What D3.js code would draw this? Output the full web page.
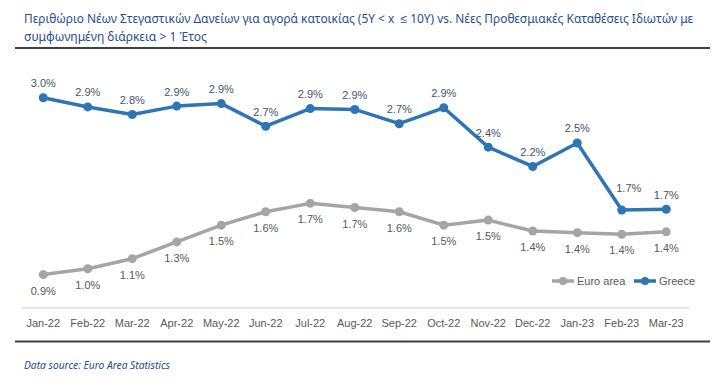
<!DOCTYPE html>
<html>
<head>
<meta charset="utf-8">
<script src="https://cdn.jsdelivr.net/npm/d3@7"></script>
<style>
  body { margin: 0; background: #fff; }
  svg { display: block; font-family: "Liberation Sans", Arial, sans-serif; }
</style>
</head>
<body>
<svg id="chart" width="714" height="384"></svg>
<script>
const months = ["Jan-22", "Feb-22", "Mar-22", "Apr-22", "May-22", "Jun-22", "Jul-22", "Aug-22",
  "Sep-22", "Oct-22", "Nov-22", "Dec-22", "Jan-23", "Feb-23", "Mar-23"];
const greece = [3.00, 2.89, 2.80, 2.90, 2.93, 2.66, 2.87, 2.86, 2.69, 2.88, 2.41, 2.18, 2.46, 1.66, 1.67];
const euroArea = [0.89, 0.96, 1.08, 1.28, 1.48, 1.64, 1.74, 1.69, 1.64, 1.48, 1.54, 1.41, 1.39, 1.37, 1.40];
const seriesNames = ["Euro area", "Greece"];
const titleLines = [
  "Περιθώριο Νέων Στεγαστικών Δανείων για αγορά κατοικίας (5Y < x  ≤ 10Y) vs. Νέες Προθεσμιακές Καταθέσεις Ιδιωτών με",
  "συμφωνημένη διάρκεια > 1 Έτος"
];
const sourceText = "Data source: Euro Area Statistics";

const svg = d3.select("#chart");

const x = d3.scaleBand().domain(months).range([21, 688.5]);
const y = d3.scaleLinear().domain([0.5, 3.5]).range([307.3, 55.8]);
const cx = function (m) { return x(m) + x.bandwidth() / 2; };

// Title
svg.append("g")
  .selectAll("text")
  .data(titleLines)
  .enter()
  .append("text")
  .attr("x", 24)
  .attr("y", function (d, i) { return 23 + i * 18; })
  .attr("fill", "#1f4e8c")
  .style("font-family", "'Noto Sans', sans-serif")
  .style("font-size", "12px")
  .style("white-space", "pre")
  .attr("textLength", function (d, i) { return i === 0 ? 669 : 183; })
  .attr("lengthAdjust", "spacingAndGlyphs")
  .text(function (d) { return d; });

// Rules
svg.append("line").attr("x1", 15).attr("x2", 710).attr("y1", 48).attr("y2", 48)
  .attr("stroke", "#404040").attr("stroke-width", 2);
svg.append("line").attr("x1", 15).attr("x2", 710).attr("y1", 341.5).attr("y2", 341.5)
  .attr("stroke", "#404040").attr("stroke-width", 2);

// Footer
svg.append("text")
  .attr("x", 24).attr("y", 369)
  .attr("fill", "#1f4e8c")
  .style("font-family", "'Noto Sans', sans-serif")
  .style("font-style", "italic")
  .style("font-size", "10.5px")
  .attr("textLength", 146)
  .attr("lengthAdjust", "spacingAndGlyphs")
  .text(sourceText);

// X axis
const xAxis = svg.append("g")
  .attr("transform", "translate(0,307.3)")
  .call(d3.axisBottom(x).tickSize(0).tickPadding(12));
xAxis.select(".domain").attr("stroke", "#d9d9d9").attr("stroke-width", 1.2);
xAxis.selectAll("text").attr("fill", "#595959").style("font-size", "11px")
  .style("font-family", "'Liberation Sans', Arial, sans-serif");

const series = [
  { name: "Euro area", values: euroArea, color: "#a5a5a5", labelColor: "#595959", dy: 20 },
  { name: "Greece", values: greece, color: "#2e75b6", labelColor: "#44546a", dy: -10.5 }
];

const line = d3.line()
  .x(function (d) { return cx(d.m); })
  .y(function (d) { return y(d.v); });

series.forEach(function (s) {
  const pts = months.map(function (m, i) { return { m: m, v: s.values[i] }; });
  const g = svg.append("g");

  g.append("path")
    .datum(pts)
    .attr("d", line)
    .attr("fill", "none")
    .attr("stroke", s.color)
    .attr("stroke-width", 3.5)
    .attr("stroke-linejoin", "round");

  g.selectAll("circle")
    .data(pts)
    .enter()
    .append("circle")
    .attr("cx", function (d) { return cx(d.m); })
    .attr("cy", function (d) { return y(d.v); })
    .attr("r", 4.5)
    .attr("fill", s.color);

  g.selectAll("text")
    .data(pts)
    .enter()
    .append("text")
    // Feb-23 Greece label is nudged up/right off the steep drop, as in the original
    .attr("x", function (d) {
      return cx(d.m) + (s.name === "Greece" && d.m === "Feb-23" ? 7 : 0);
    })
    .attr("y", function (d) {
      return y(d.v) + s.dy + (s.name === "Greece" && d.m === "Feb-23" ? -8 : 0);
    })
    .attr("text-anchor", "middle")
    .attr("fill", s.labelColor)
    .style("font-size", "11px")
    .text(function (d) { return d.v.toFixed(1) + "%"; });
});

// Legend
const legend = svg.append("g")
  .selectAll("g")
  .data(series)
  .enter()
  .append("g")
  .attr("transform", function (d, i) { return "translate(" + (i === 0 ? 552 : 634) + ",281)"; });

legend.append("line")
  .attr("x1", 0).attr("x2", 22)
  .attr("stroke", function (d) { return d.color; })
  .attr("stroke-width", 3.5);
legend.append("circle")
  .attr("cx", 11).attr("r", 4)
  .attr("fill", function (d) { return d.color; });
legend.append("text")
  .attr("x", 25).attr("y", 4)
  .attr("fill", "#595959")
  .style("font-size", "11px")
  .text(function (d) { return d.name; });
</script>
</body>
</html>
